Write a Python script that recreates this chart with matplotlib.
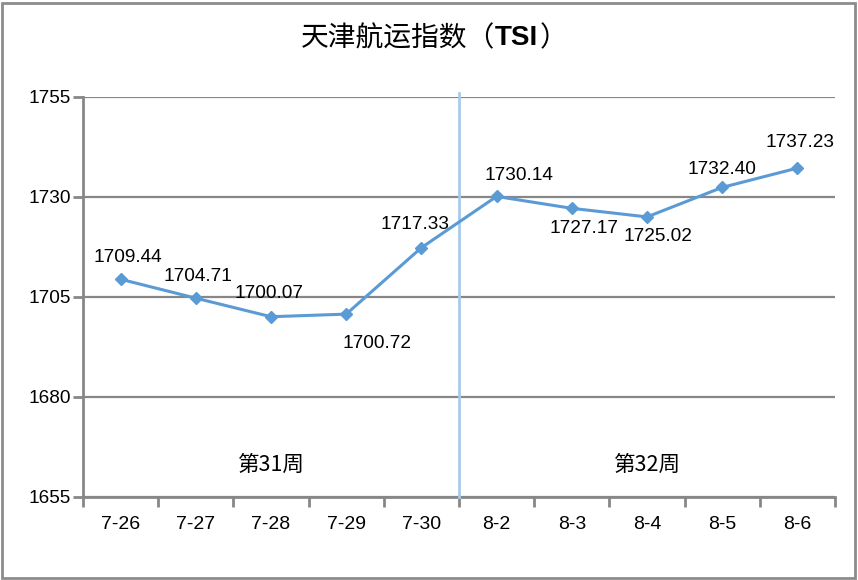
import matplotlib.pyplot as plt
from matplotlib.patches import Rectangle

plt.rcParams['font.family'] = ['Liberation Sans', 'Noto Sans CJK SC', 'DejaVu Sans']

# data
dates = ['7-26', '7-27', '7-28', '7-29', '7-30', '8-2', '8-3', '8-4', '8-5', '8-6']
tsi = [1709.44, 1704.71, 1700.07, 1700.72, 1717.33,
       1730.14, 1727.17, 1725.02, 1732.40, 1737.23]
weeks = ['第31周', '第32周']
yticks = [1655, 1680, 1705, 1730, 1755]

# label offsets in pixels (dx, dy) relative to each point
offs = [(7, 22), (2, 22), (-2, 23), (31, -29), (-6, 23),
        (22, 21), (12, -20), (11, -20), (0, 18), (3, 26)]
line_col = '#5B9BD5'
grid_col = '#878787'

fig = plt.figure(figsize=(8.58, 5.80), dpi=100)
ax = fig.add_axes([83 / 858, 1 - 497 / 580, 752 / 858, 400 / 580])

x = list(range(len(dates)))
ax.plot(x, tsi, color=line_col, lw=2.2, marker='D', ms=6.5, zorder=4)

for xi, v, (dx, dy) in zip(x, tsi, offs):
    ax.annotate(f'{v:.2f}', (xi, v), xytext=(dx, dy), textcoords='offset pixels',
                ha='center', va='center', fontsize=13.7, color='black')

ax.set_xlim(-0.5, len(dates) - 0.5)
ax.set_ylim(yticks[0], yticks[-1])
ax.set_yticks(yticks)
ax.set_yticklabels([str(t) for t in yticks], fontsize=13.7)
ax.set_xticks(x)
ax.set_xticklabels(dates, fontsize=14)
ax.tick_params(axis='x', length=0, pad=14)
ax.set_xticks([i - 0.5 for i in range(len(dates) + 1)], minor=True)
ax.tick_params(axis='x', which='minor', length=7, width=2, color=grid_col)
ax.tick_params(axis='y', length=7, width=2, color=grid_col, pad=2)
ax.yaxis.grid(True, color=grid_col, lw=1.6)
ax.set_axisbelow(True)

for s in ['top', 'right']:
    ax.spines[s].set_visible(False)
for s in ['left', 'bottom']:
    ax.spines[s].set_color(grid_col)
    ax.spines[s].set_linewidth(2)

# week divider between 7-30 and 8-2
ax.plot([4.5, 4.5], [1655, 1756], color='#A9CBEA', lw=2, clip_on=False, zorder=3)

ax.text(2, 1663, weeks[0], ha='center', va='center', fontsize=15.5,
        family=['Noto Sans CJK SC'])
ax.text(7, 1663, weeks[1], ha='center', va='center', fontsize=15.5,
        family=['Noto Sans CJK SC'])

# title: Chinese part, bold TSI, closing paren
ty = 1 - 38 / 580
t1 = fig.text(495 / 858, ty, '天津航运指数（', ha='right', va='center',
              fontsize=20, family=['Noto Sans CJK SC'])
t2 = fig.text(495 / 858, ty, 'TSI', ha='left', va='center',
              fontsize=20, fontweight='bold', family=['Liberation Sans'])
fig.canvas.draw()
bb = t2.get_window_extent()
fig.text(bb.x1 / 858 + 1 / 858, ty, '）', ha='left', va='center',
         fontsize=20, family=['Noto Sans CJK SC'])

fig.patches.append(Rectangle((2 / 858, 2 / 580), 853 / 858, 575 / 580,
                             transform=fig.transFigure, fill=False,
                             edgecolor='#8c8c8c', lw=2))

fig.savefig('out.png', dpi=100)
